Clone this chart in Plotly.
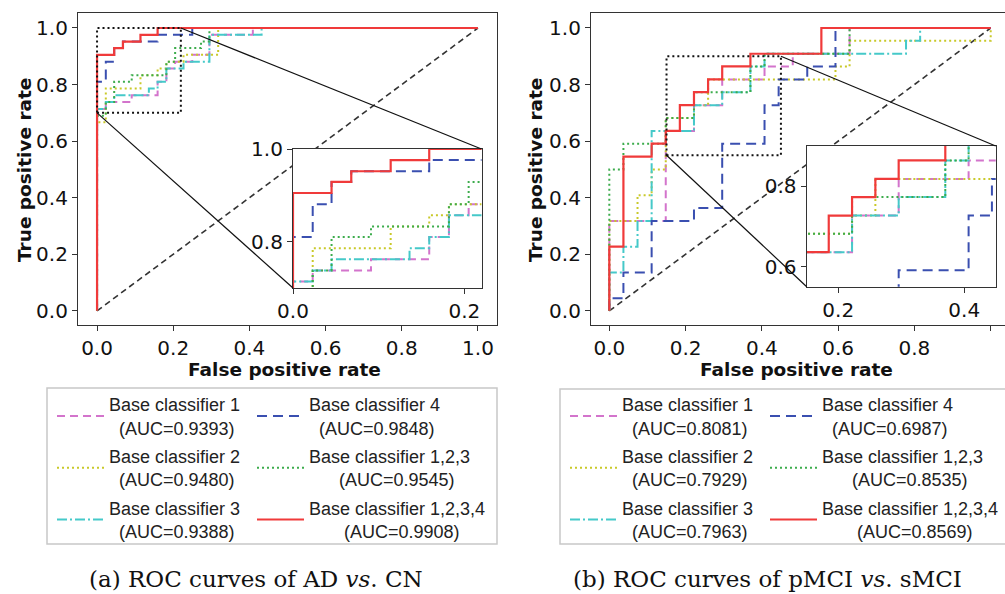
import plotly.graph_objects as go

W, H = 1005, 594

# ---------------- data: (a) AD vs. CN ----------------
ad_bc1_fpr = [0, 0, 0.023, 0.023, 0.091, 0.091, 0.159, 0.159, 0.182, 0.182, 0.205, 0.205, 0.25, 0.25, 0.295, 0.295, 0.409, 0.409, 1.0]
ad_bc1_tpr = [0, 0.714, 0.714, 0.738, 0.738, 0.762, 0.762, 0.810, 0.810, 0.857, 0.857, 0.881, 0.881, 0.905, 0.905, 0.976, 0.976, 1.0, 1.0]
ad_bc2_fpr = [0, 0, 0.023, 0.023, 0.114, 0.114, 0.159, 0.159, 0.182, 0.182, 0.227, 0.227, 0.318, 0.318, 1.0]
ad_bc2_tpr = [0, 0.667, 0.667, 0.786, 0.786, 0.833, 0.833, 0.857, 0.857, 0.881, 0.881, 0.905, 0.905, 1.0, 1.0]
ad_bc3_fpr = [0, 0, 0.023, 0.023, 0.045, 0.045, 0.136, 0.136, 0.159, 0.159, 0.182, 0.182, 0.227, 0.227, 0.295, 0.295, 0.432, 0.432, 1.0]
ad_bc3_tpr = [0, 0.714, 0.714, 0.738, 0.738, 0.762, 0.762, 0.786, 0.786, 0.810, 0.810, 0.857, 0.857, 0.881, 0.881, 0.976, 0.976, 1.0, 1.0]
ad_bc4_fpr = [0, 0, 0.023, 0.023, 0.045, 0.045, 0.068, 0.068, 0.159, 0.159, 0.25, 0.25, 1.0]
ad_bc4_tpr = [0, 0.810, 0.810, 0.881, 0.881, 0.929, 0.929, 0.952, 0.952, 0.976, 0.976, 1.0, 1.0]
ad_bc123_fpr = [0, 0, 0.023, 0.023, 0.045, 0.045, 0.091, 0.091, 0.182, 0.182, 0.205, 0.205, 0.273, 0.273, 0.295, 0.295, 1.0]
ad_bc123_tpr = [0, 0.690, 0.690, 0.738, 0.738, 0.810, 0.810, 0.833, 0.833, 0.881, 0.881, 0.929, 0.929, 0.952, 0.952, 1.0, 1.0]
ad_bc1234_fpr = [0, 0, 0.045, 0.045, 0.068, 0.068, 0.114, 0.114, 0.159, 0.159, 1.0]
ad_bc1234_tpr = [0, 0.905, 0.905, 0.929, 0.929, 0.952, 0.952, 0.976, 0.976, 1.0, 1.0]
ad_auc = ["0.9393", "0.9480", "0.9388", "0.9848", "0.9545", "0.9908"]

# ---------------- data: (b) pMCI vs. sMCI ----------------
mci_bc1_fpr = [0, 0, 0.148, 0.148, 0.222, 0.222, 0.296, 0.296, 0.407, 0.407, 0.481, 0.481, 0.630, 0.630, 1.0]
mci_bc1_tpr = [0, 0.318, 0.318, 0.636, 0.636, 0.727, 0.727, 0.818, 0.818, 0.864, 0.864, 0.909, 0.909, 1.0, 1.0]
mci_bc2_fpr = [0, 0, 0.074, 0.074, 0.111, 0.111, 0.148, 0.148, 0.222, 0.222, 0.259, 0.259, 0.593, 0.593, 0.630, 0.630, 1.0, 1.0]
mci_bc2_tpr = [0, 0.318, 0.318, 0.409, 0.409, 0.5, 0.5, 0.682, 0.682, 0.727, 0.727, 0.818, 0.818, 0.864, 0.864, 0.955, 0.955, 1.0]
mci_bc3_fpr = [0, 0, 0.037, 0.037, 0.074, 0.074, 0.111, 0.111, 0.222, 0.222, 0.296, 0.296, 0.370, 0.370, 0.407, 0.407, 0.778, 0.778, 0.815, 0.815, 1.0]
mci_bc3_tpr = [0, 0.136, 0.136, 0.227, 0.227, 0.318, 0.318, 0.636, 0.636, 0.727, 0.727, 0.773, 0.773, 0.864, 0.864, 0.909, 0.909, 0.955, 0.955, 1.0, 1.0]
mci_bc4_fpr = [0, 0, 0.037, 0.037, 0.111, 0.111, 0.222, 0.222, 0.296, 0.296, 0.407, 0.407, 0.444, 0.444, 0.519, 0.519, 0.593, 0.593, 1.0]
mci_bc4_tpr = [0, 0.045, 0.045, 0.136, 0.136, 0.318, 0.318, 0.364, 0.364, 0.591, 0.591, 0.727, 0.727, 0.818, 0.818, 0.864, 0.864, 1.0, 1.0]
mci_bc123_fpr = [0, 0, 0.037, 0.037, 0.148, 0.148, 0.222, 0.222, 0.370, 0.370, 0.407, 0.407, 0.630, 0.630, 1.0]
mci_bc123_tpr = [0, 0.5, 0.5, 0.591, 0.591, 0.682, 0.682, 0.773, 0.773, 0.864, 0.864, 0.909, 0.909, 1.0, 1.0]
mci_bc1234_fpr = [0, 0, 0.037, 0.037, 0.111, 0.111, 0.148, 0.148, 0.185, 0.185, 0.222, 0.222, 0.259, 0.259, 0.296, 0.296, 0.370, 0.370, 0.556, 0.556, 1.0]
mci_bc1234_tpr = [0, 0.227, 0.227, 0.545, 0.545, 0.591, 0.591, 0.636, 0.636, 0.727, 0.727, 0.773, 0.773, 0.818, 0.818, 0.864, 0.864, 0.909, 0.909, 1.0, 1.0]
mci_auc = ["0.8081", "0.7929", "0.7963", "0.6987", "0.8535", "0.8569"]

series_names = ["Base classifier 1", "Base classifier 2", "Base classifier 3",
                "Base classifier 4", "Base classifier 1,2,3", "Base classifier 1,2,3,4"]
name_pad = [2, 2, 2, 2, 6, 7]
chance_line = [0, 1]
x_ticks = [0, 0.2, 0.4, 0.6, 0.8, 1.0]
inset_a_xticks = [0.0, 0.2]
inset_a_yticks = [0.8, 1.0]
inset_b_xticks = [0.2, 0.4]
inset_b_yticks = [0.6, 0.8]
zoom_a = dict(x=[0, 0.22], y=[0.70, 1.0])
zoom_b = dict(x=[0.15, 0.45], y=[0.55, 0.90])

# ---------------- styles ----------------
colors = ["#d374cc", "#c9c92a", "#45c9c9", "#3a4fb0", "#3cac4c", "#f03a3a"]
dashes = ["8px,5px", "2px,3px", "10px,3px,2px,3px", "10px,6px", "2px,3px", "solid"]
widths = [2, 2, 2, 2, 2, 2.2]

ad_data = [(ad_bc1_fpr, ad_bc1_tpr), (ad_bc2_fpr, ad_bc2_tpr), (ad_bc3_fpr, ad_bc3_tpr),
           (ad_bc4_fpr, ad_bc4_tpr), (ad_bc123_fpr, ad_bc123_tpr), (ad_bc1234_fpr, ad_bc1234_tpr)]
mci_data = [(mci_bc1_fpr, mci_bc1_tpr), (mci_bc2_fpr, mci_bc2_tpr), (mci_bc3_fpr, mci_bc3_tpr),
            (mci_bc4_fpr, mci_bc4_tpr), (mci_bc123_fpr, mci_bc123_tpr), (mci_bc1234_fpr, mci_bc1234_tpr)]

def px(v):
    return v / W

def py(v):
    return 1 - v / H

# axis geometry (paper domains) and ranges
dom = {
    "a_main": dict(x=[px(78), px(497)], y=[py(325), py(13)], xr=[-0.05, 1.05], yr=[-0.05, 1.053]),
    "a_ins": dict(x=[px(293), px(481.5)], y=[py(288), py(149)], xr=zoom_a["x"], yr=zoom_a["y"]),
    "b_main": dict(x=[px(591), 1.0], y=[py(325), py(13)], xr=[-0.048, 1.0375], yr=[-0.05, 1.053]),
    "b_ins": dict(x=[px(806.7), px(995.7)], y=[py(286.7), py(146)], xr=zoom_b["x"], yr=zoom_b["y"]),
}

fig = go.Figure()

def add_panel(data, auc, xa, ya, xa_in, ya_in, leg_l, leg_r, grp):
    fig.add_trace(go.Scatter(x=chance_line, y=chance_line, mode="lines", xaxis=xa, yaxis=ya,
                             line=dict(color="#333333", width=1.6, dash="6px,4px"),
                             showlegend=False, hoverinfo="skip"))
    fig.add_trace(go.Scatter(x=chance_line, y=chance_line, mode="lines", xaxis=xa_in, yaxis=ya_in,
                             line=dict(color="#333333", width=1.6, dash="6px,4px"),
                             showlegend=False, hoverinfo="skip"))
    for i, (f, t) in enumerate(data):
        label = series_names[i] + "<br>" + "\u00a0" * name_pad[i] + "(AUC=" + auc[i] + ")"
        fig.add_trace(go.Scatter(x=f, y=t, mode="lines", xaxis=xa, yaxis=ya, name=label,
                                 line=dict(color=colors[i], width=widths[i], dash=dashes[i]),
                                 legend=leg_l if i < 3 else leg_r,
                                 legendgroup=grp + str(i)))
    for i, (f, t) in enumerate(data):
        fig.add_trace(go.Scatter(x=f, y=t, mode="lines", xaxis=xa_in, yaxis=ya_in,
                                 line=dict(color=colors[i], width=widths[i], dash=dashes[i]),
                                 showlegend=False, legendgroup=grp + str(i)))

add_panel(ad_data, ad_auc, "x", "y", "x2", "y2", "legend", "legend2", "a")
add_panel(mci_data, mci_auc, "x3", "y3", "x4", "y4", "legend3", "legend4", "b")

tick_font = dict(family="DejaVu Sans", size=20, color="#111111")
axis_common = dict(showgrid=False, zeroline=False, showline=True, mirror=True,
                   linecolor="#333333", linewidth=1.2, ticks="outside", ticklen=5,
                   tickwidth=1.2, tickcolor="#333333", tickfont=tick_font, tickformat=".1f",
                   automargin=False)

def axes(key, anchor_x, anchor_y, xt, yt):
    d = dom[key]
    xax = dict(axis_common, domain=d["x"], range=d["xr"], anchor=anchor_y, tickvals=xt)
    yax = dict(axis_common, domain=d["y"], range=d["yr"], anchor=anchor_x, tickvals=yt)
    return xax, yax

xa1, ya1 = axes("a_main", "x", "y", x_ticks, x_ticks)
xa2, ya2 = axes("a_ins", "x2", "y2", inset_a_xticks, inset_a_yticks)
xa3, ya3 = axes("b_main", "x3", "y3", x_ticks, x_ticks)
xa4, ya4 = axes("b_ins", "x4", "y4", inset_b_xticks, inset_b_yticks)

leg_common = dict(orientation="v", xanchor="left", yanchor="top", bgcolor="rgba(0,0,0,0)",
                  borderwidth=0, font=dict(family="Liberation Sans", size=18, color="#222222"),
                  tracegroupgap=2, itemwidth=47, traceorder="grouped", itemclick=False)

def to_paper(key, xv, yv):
    d = dom[key]
    xp = d["x"][0] + (xv - d["xr"][0]) / (d["xr"][1] - d["xr"][0]) * (d["x"][1] - d["x"][0])
    yp = d["y"][0] + (yv - d["yr"][0]) / (d["yr"][1] - d["yr"][0]) * (d["y"][1] - d["y"][0])
    return xp, yp

shapes = []
for key_m, key_i, z, xr, yr in [("a_main", "a_ins", zoom_a, "x", "y"), ("b_main", "b_ins", zoom_b, "x3", "y3")]:
    shapes.append(dict(type="rect", xref=xr, yref=yr, x0=z["x"][0], x1=z["x"][1], y0=z["y"][0], y1=z["y"][1],
                       line=dict(color="#111111", width=2, dash="2px,3px"), layer="above"))
    a0 = to_paper(key_m, z["x"][0], z["y"][0])
    a1 = to_paper(key_m, z["x"][1], z["y"][1])
    di = dom[key_i]
    shapes.append(dict(type="line", xref="paper", yref="paper", x0=a0[0], y0=a0[1],
                       x1=di["x"][0], y1=di["y"][0], line=dict(color="#111111", width=1.2), layer="above"))
    shapes.append(dict(type="line", xref="paper", yref="paper", x0=a1[0], y0=a1[1],
                       x1=di["x"][1], y1=di["y"][1], line=dict(color="#111111", width=1.2), layer="above"))

# legend frames
shapes.append(dict(type="rect", xref="paper", yref="paper", x0=px(47), x1=px(497), y0=py(544), y1=py(388),
                   line=dict(color="#c8c8c8", width=1.5)))
shapes.append(dict(type="rect", xref="paper", yref="paper", x0=px(560), x1=px(1012), y0=py(544), y1=py(389),
                   line=dict(color="#c8c8c8", width=1.5)))

title_font = dict(family="DejaVu Sans", size=18.5, color="#111111")
cap_font = dict(family="DejaVu Serif", size=23, color="#111111")

def ann(text, x, y, font, angle=0):
    return dict(text=text, x=px(x), y=py(y), xref="paper", yref="paper", xanchor="center",
                yanchor="middle", textangle=angle, showarrow=False, font=font)

annotations = [
    ann("<b>True positive rate</b>", 25, 170, title_font, -90),
    ann("<b>False positive rate</b>", 284, 369, title_font),
    ann("<b>True positive rate</b>", 536, 170, title_font, -90),
    ann("<b>False positive rate</b>", 796, 369, title_font),
    ann("(a) ROC curves of AD <i>vs</i>. CN", 256, 579, cap_font),
    ann("(b) ROC curves of pMCI <i>vs</i>. sMCI", 767, 579, cap_font),
]

fig.update_layout(
    width=W, height=H, autosize=False,
    margin=dict(l=0, r=0, t=0, b=0, pad=0, autoexpand=False),
    paper_bgcolor="white", plot_bgcolor="white",
    xaxis=xa1, yaxis=ya1, xaxis2=xa2, yaxis2=ya2,
    xaxis3=xa3, yaxis3=ya3, xaxis4=xa4, yaxis4=ya4,
    legend=dict(leg_common, x=px(52), y=py(386)),
    legend2=dict(leg_common, x=px(252), y=py(386)),
    legend3=dict(leg_common, x=px(565), y=py(386)),
    legend4=dict(leg_common, x=px(765), y=py(386)),
    shapes=shapes, annotations=annotations,
    hovermode=False,
)

fig.write_html("out.html", post_script="document.body.style.margin='0';",
               config={"displayModeBar": False})
